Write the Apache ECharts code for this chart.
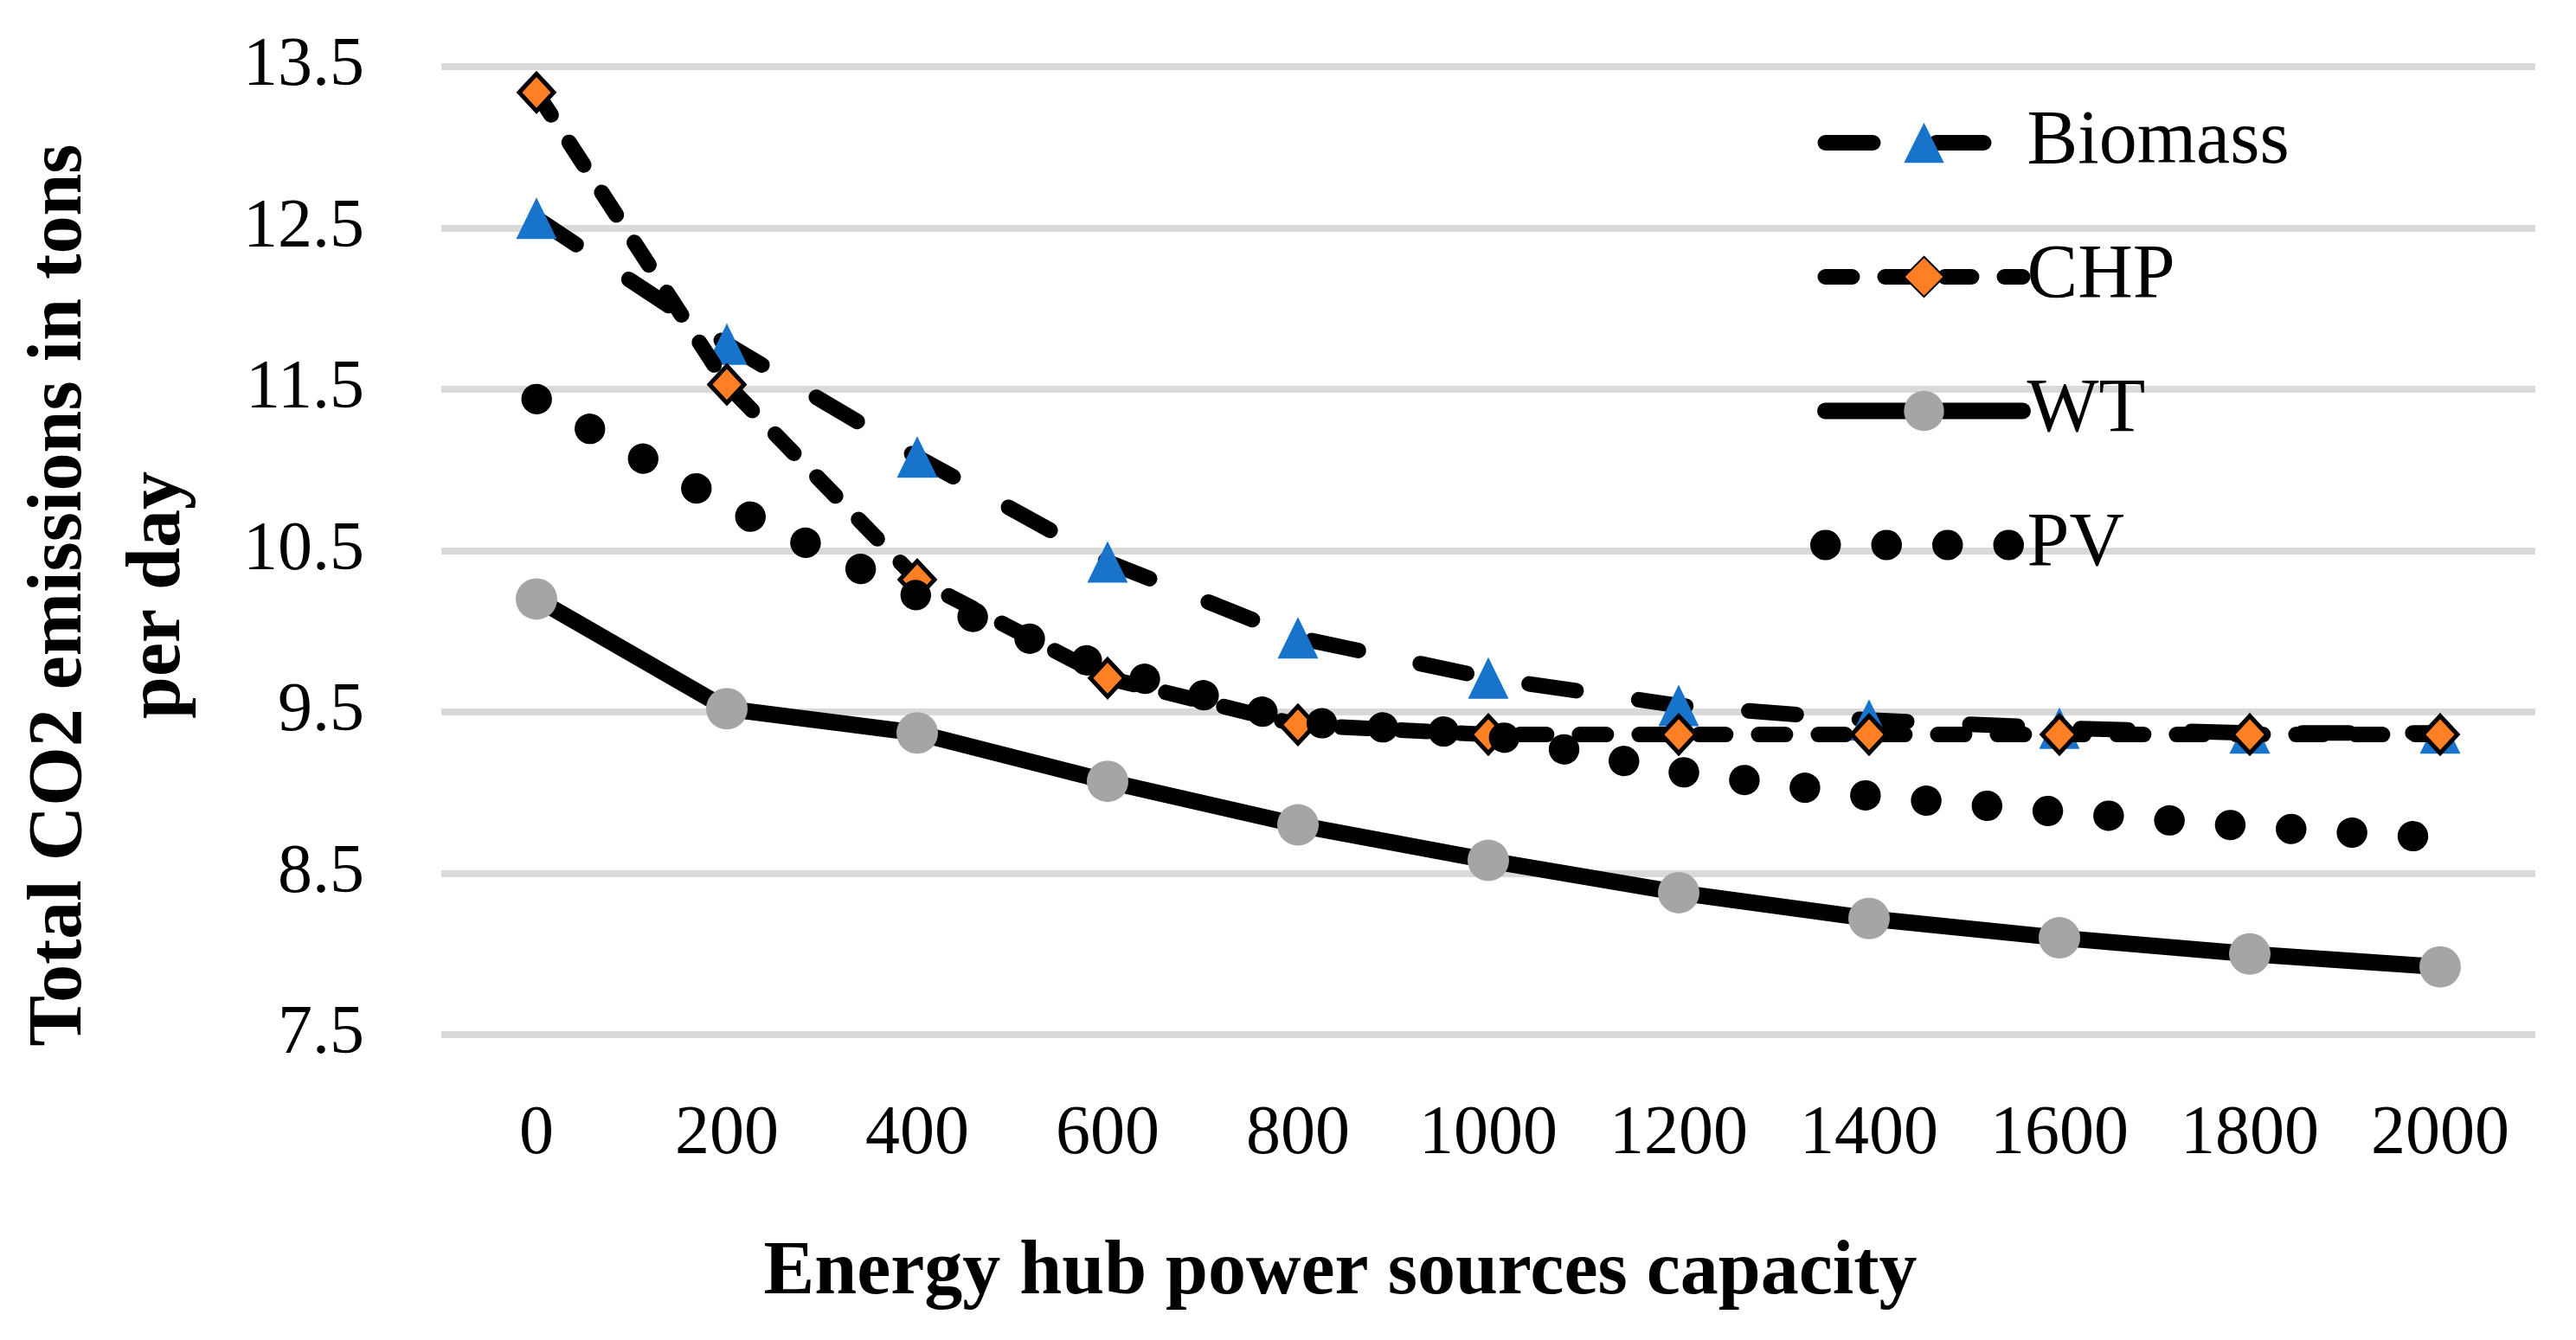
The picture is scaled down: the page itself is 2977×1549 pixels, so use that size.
<!DOCTYPE html>
<html>
<head>
<meta charset="utf-8">
<script src="https://cdn.jsdelivr.net/npm/echarts@6/dist/echarts.min.js"></script>
<style>
html,body{margin:0;padding:0;background:#ffffff;}
#chart{width:2977px;height:1549px;}
</style>
</head>
<body>
<div id="chart"></div>
<script>
const categories = ['0','200','400','600','800','1000','1200','1400','1600','1800','2000'];
const biomass = [12.56, 11.78, 11.08, 10.43, 9.96, 9.71, 9.54, 9.45, 9.40, 9.37, 9.37];
const chp     = [13.34, 11.53, 10.32, 9.71, 9.42, 9.36, 9.36, 9.36, 9.36, 9.36, 9.36];
const wt      = [10.20, 9.52, 9.37, 9.07, 8.80, 8.58, 8.38, 8.22, 8.10, 8.00, 7.92];
const pv      = [11.44, 10.78, 10.22, 9.77, 9.44, 9.36, 9.13, 8.98, 8.88, 8.79, 8.72];
const yTickLabels = ['7.5','8.5','9.5','10.5','11.5','12.5','13.5'];
const seriesNames = ['Biomass','CHP','WT','PV'];

const FONT = 'Liberation Serif';
const chart = echarts.init(document.getElementById('chart'), null, {renderer:'canvas'});

const biomassLine = {color:'#000', width:18, type:[55,73], cap:'round'};
const chpLine = {color:'#000', width:18, type:[31,38], cap:'round'};
const wtLine = {color:'#000', width:19, type:'solid', cap:'round'};
const pvLine = {color:'#000', width:35, type:[0.5,70], cap:'round'};

const option = {
  backgroundColor:'#ffffff',
  animation:false,
  grid:{left:510, right:47, top:77, bottom:353, containLabel:false},
  legend:{
    orient:'vertical',
    left:2087, top:116,
    itemWidth:228, itemHeight:58, itemGap:67,
    textStyle:{fontFamily:FONT, fontSize:88, color:'#000'},
    data:[
      {name:seriesNames[0], lineStyle:biomassLine},
      {name:seriesNames[1], lineStyle:chpLine},
      {name:seriesNames[2], lineStyle:wtLine},
      {name:seriesNames[3], lineStyle:pvLine, itemStyle:{color:'rgba(0,0,0,0)', borderWidth:0}}
    ]
  },
  xAxis:{
    type:'category',
    data:categories,
    boundaryGap:true,
    axisLine:{show:false},
    axisTick:{show:false},
    axisLabel:{fontFamily:FONT, fontSize:80, color:'#000', margin:76},
    name:'Energy hub power sources capacity',
    nameLocation:'middle',
    nameGap:232,
    nameTextStyle:{fontFamily:FONT, fontSize:88, fontWeight:'bold', color:'#000', padding:[0,342,0,0]}
  },
  yAxis:{
    type:'value',
    min:7.5, max:13.5, interval:0.5,
    axisLine:{show:false},
    axisTick:{show:false},
    axisLabel:{
      fontFamily:FONT, fontSize:80, color:'#000', margin:89,
      formatter:function(v){ const s=v.toFixed(1); return yTickLabels.indexOf(s)>=0 ? s : ''; }
    },
    splitLine:{show:true, lineStyle:{color:['#D9D9D9','rgba(0,0,0,0)'], width:8}},
    name:'Total CO2 emissions in tons\nper day',
    nameLocation:'middle',
    nameGap:269,
    nameTextStyle:{fontFamily:FONT, fontSize:88, fontWeight:'bold', color:'#000', lineHeight:114, align:'center', padding:[0,103,0,0]}
  },
  series:[
    {name:seriesNames[0], type:'line', data:biomass, symbol:'triangle', symbolSize:[47,48],
     itemStyle:{color:'#1874CB'}, lineStyle:biomassLine, z:2},
    {name:seriesNames[1], type:'line', data:chp, symbol:'diamond', symbolSize:[40,43],
     itemStyle:{color:'#FF8024', borderColor:'#000', borderWidth:5}, lineStyle:chpLine, z:3},
    {name:seriesNames[2], type:'line', data:wt, symbol:'circle', symbolSize:48,
     itemStyle:{color:'#A5A5A5'}, lineStyle:wtLine, z:4},
    {name:seriesNames[3], type:'line', data:pv, symbol:'none',
     itemStyle:{color:'#000'}, lineStyle:pvLine, z:5}
  ]
};
chart.setOption(option);
</script>
</body>
</html>
